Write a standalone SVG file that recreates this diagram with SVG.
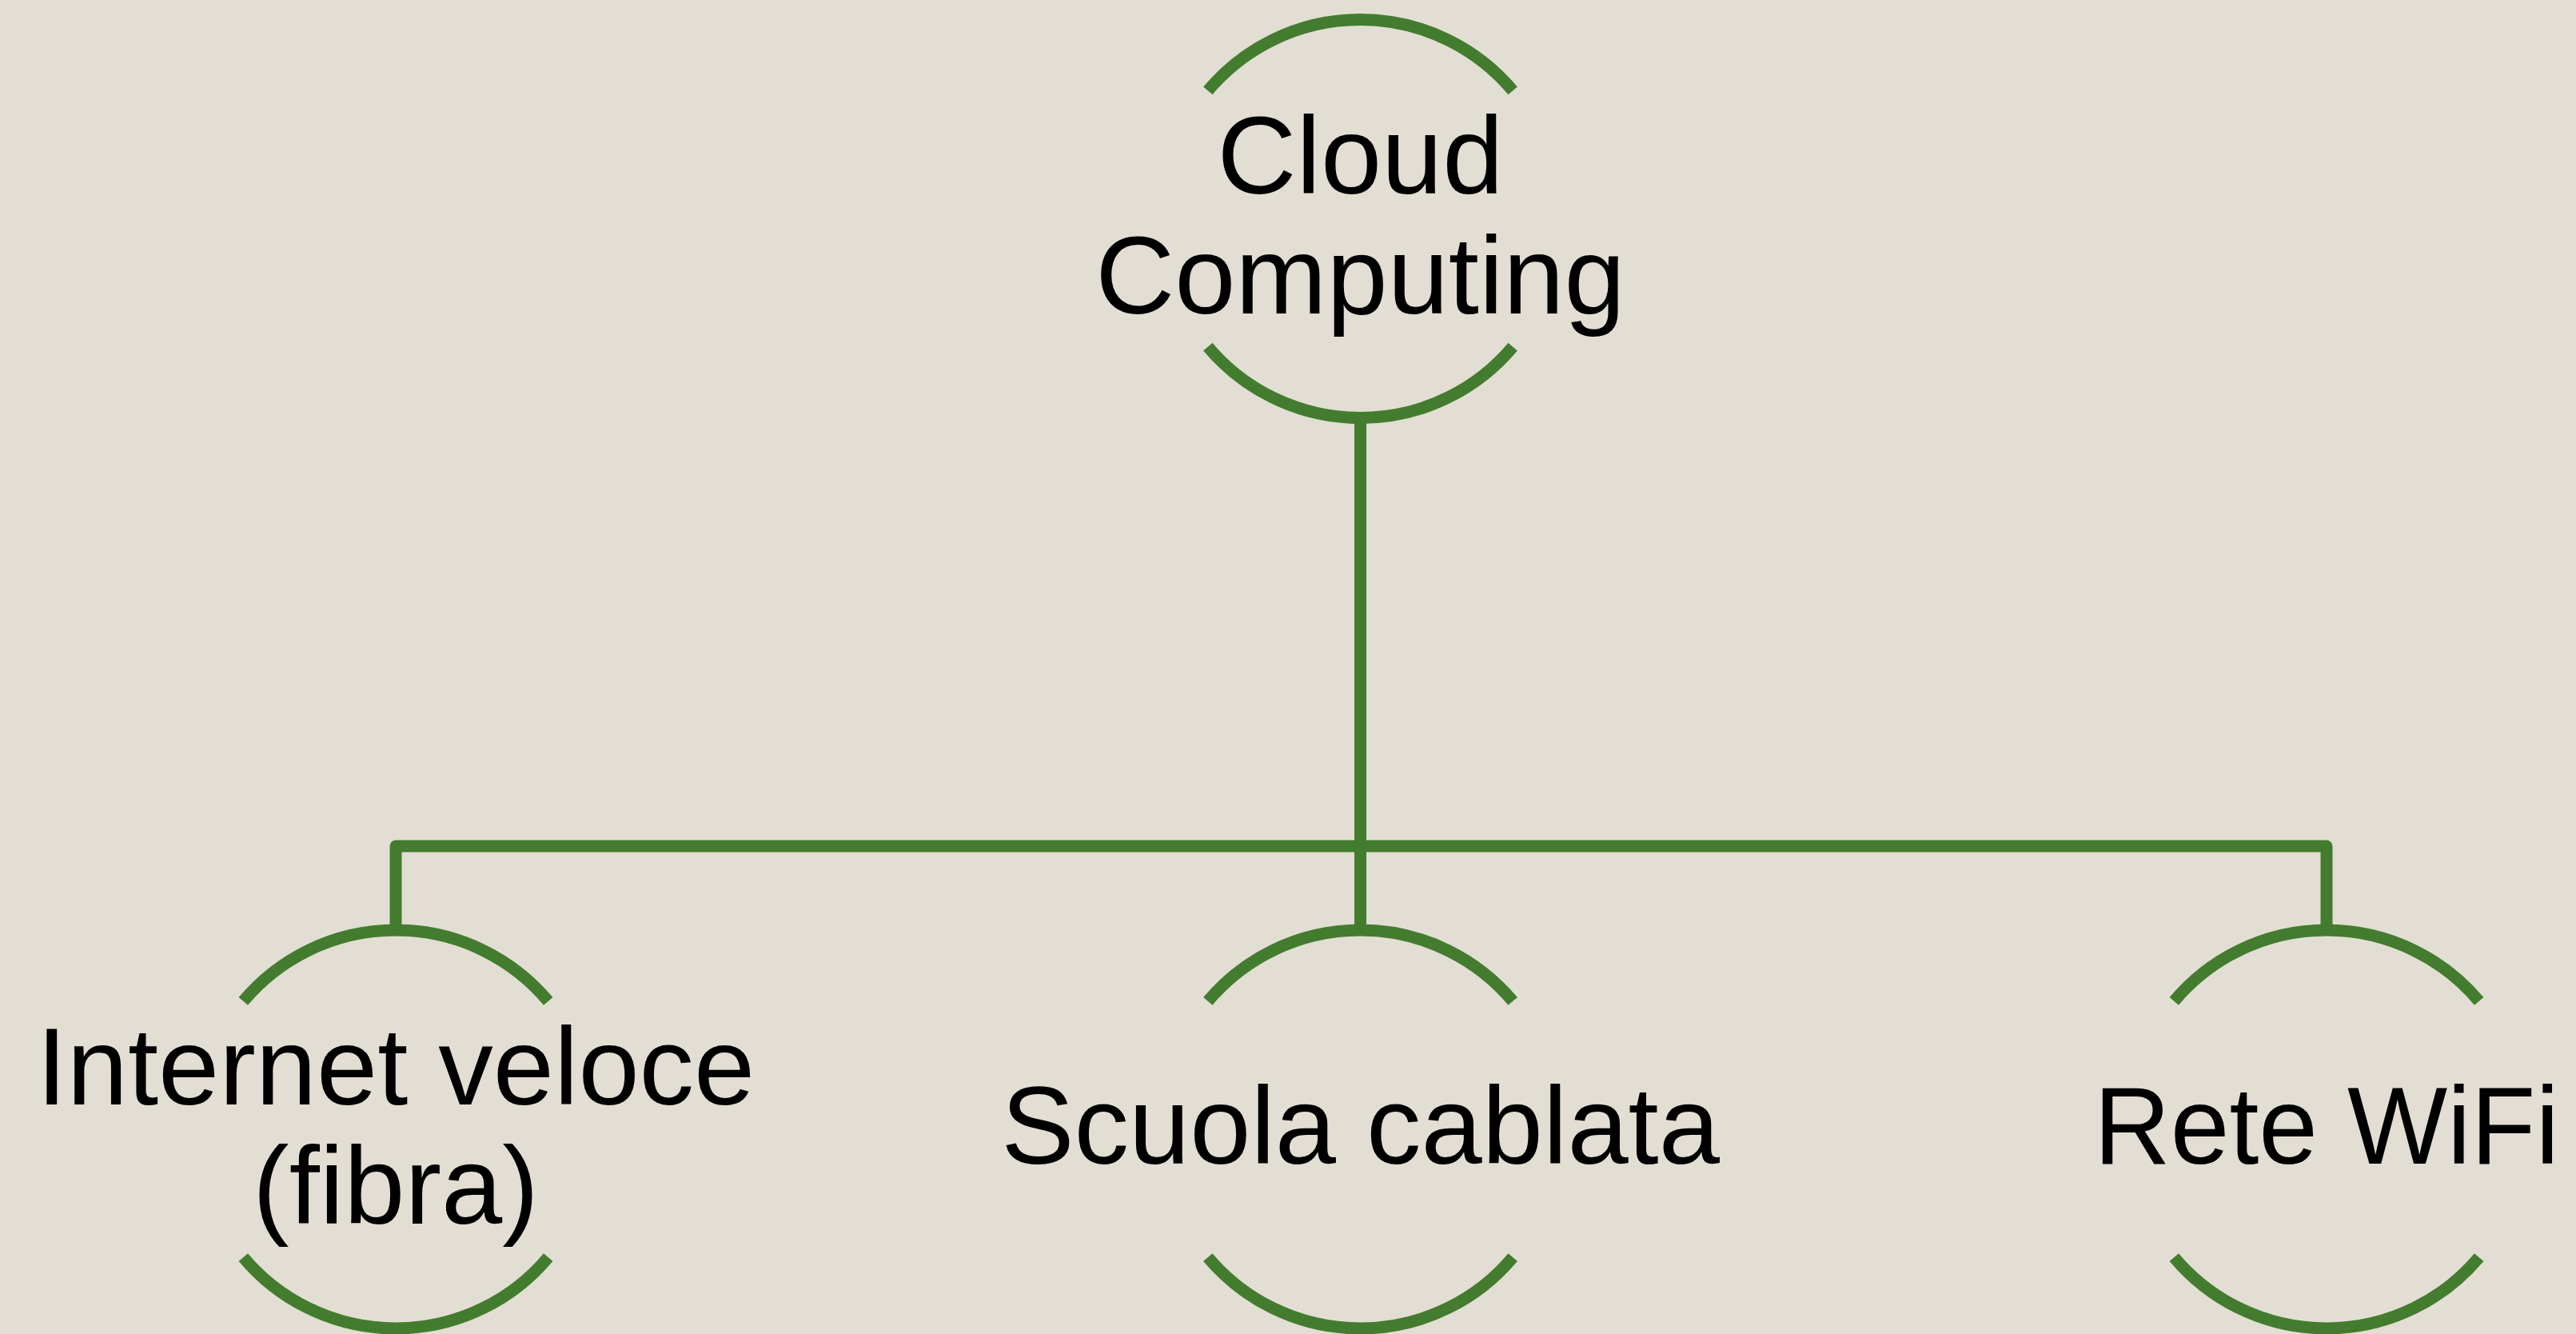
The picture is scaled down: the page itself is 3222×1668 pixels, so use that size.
<svg xmlns="http://www.w3.org/2000/svg" width="3222" height="1668" viewBox="0 0 3222 1668">
  <style>
    .arc { fill: none; stroke: #437C2E; stroke-width: 15; stroke-linecap: butt; }
    .conn { fill: none; stroke: #437C2E; stroke-width: 15; stroke-linejoin: round; }
    .lbl { font-family: "Liberation Sans", Arial, sans-serif; font-size: 137px; fill: #000000; text-anchor: middle; }
  </style>
  <rect x="0" y="0" width="3222" height="1668" fill="#E3DED3"/>
  <g id="connectors">
    <path class="conn" d="M1701.5,522.5 V1163"/>
    <path class="conn" d="M495,1163 V1058 H2910 V1163"/>
  </g>
  <g id="node-cloud">
    <path class="arc" d="M1510.8,113.4 A249,249 0 0 1 1892.2,113.4"/>
    <path class="arc" d="M1510.8,433.6 A249,249 0 0 0 1892.2,433.6"/>
    <text class="lbl" x="1701.5" y="241.7">Cloud</text>
    <text class="lbl" x="1701.5" y="391.7">Computing</text>
  </g>
  <g id="node-internet">
    <path class="arc" d="M304.3,1251.9 A249,249 0 0 1 685.7,1251.9"/>
    <path class="arc" d="M304.3,1572.1 A249,249 0 0 0 685.7,1572.1"/>
    <text class="lbl" x="495" y="1381">Internet veloce</text>
    <text class="lbl" x="495" y="1530">(fibra)</text>
  </g>
  <g id="node-scuola">
    <path class="arc" d="M1510.8,1251.9 A249,249 0 0 1 1892.2,1251.9"/>
    <path class="arc" d="M1510.8,1572.1 A249,249 0 0 0 1892.2,1572.1"/>
    <text class="lbl" x="1701.5" y="1455">Scuola cablata</text>
  </g>
  <g id="node-rete">
    <path class="arc" d="M2719.3,1251.9 A249,249 0 0 1 3100.7,1251.9"/>
    <path class="arc" d="M2719.3,1572.1 A249,249 0 0 0 3100.7,1572.1"/>
    <text class="lbl" x="2910" y="1455" textLength="582" lengthAdjust="spacingAndGlyphs">Rete WiFi</text>
  </g>
</svg>
